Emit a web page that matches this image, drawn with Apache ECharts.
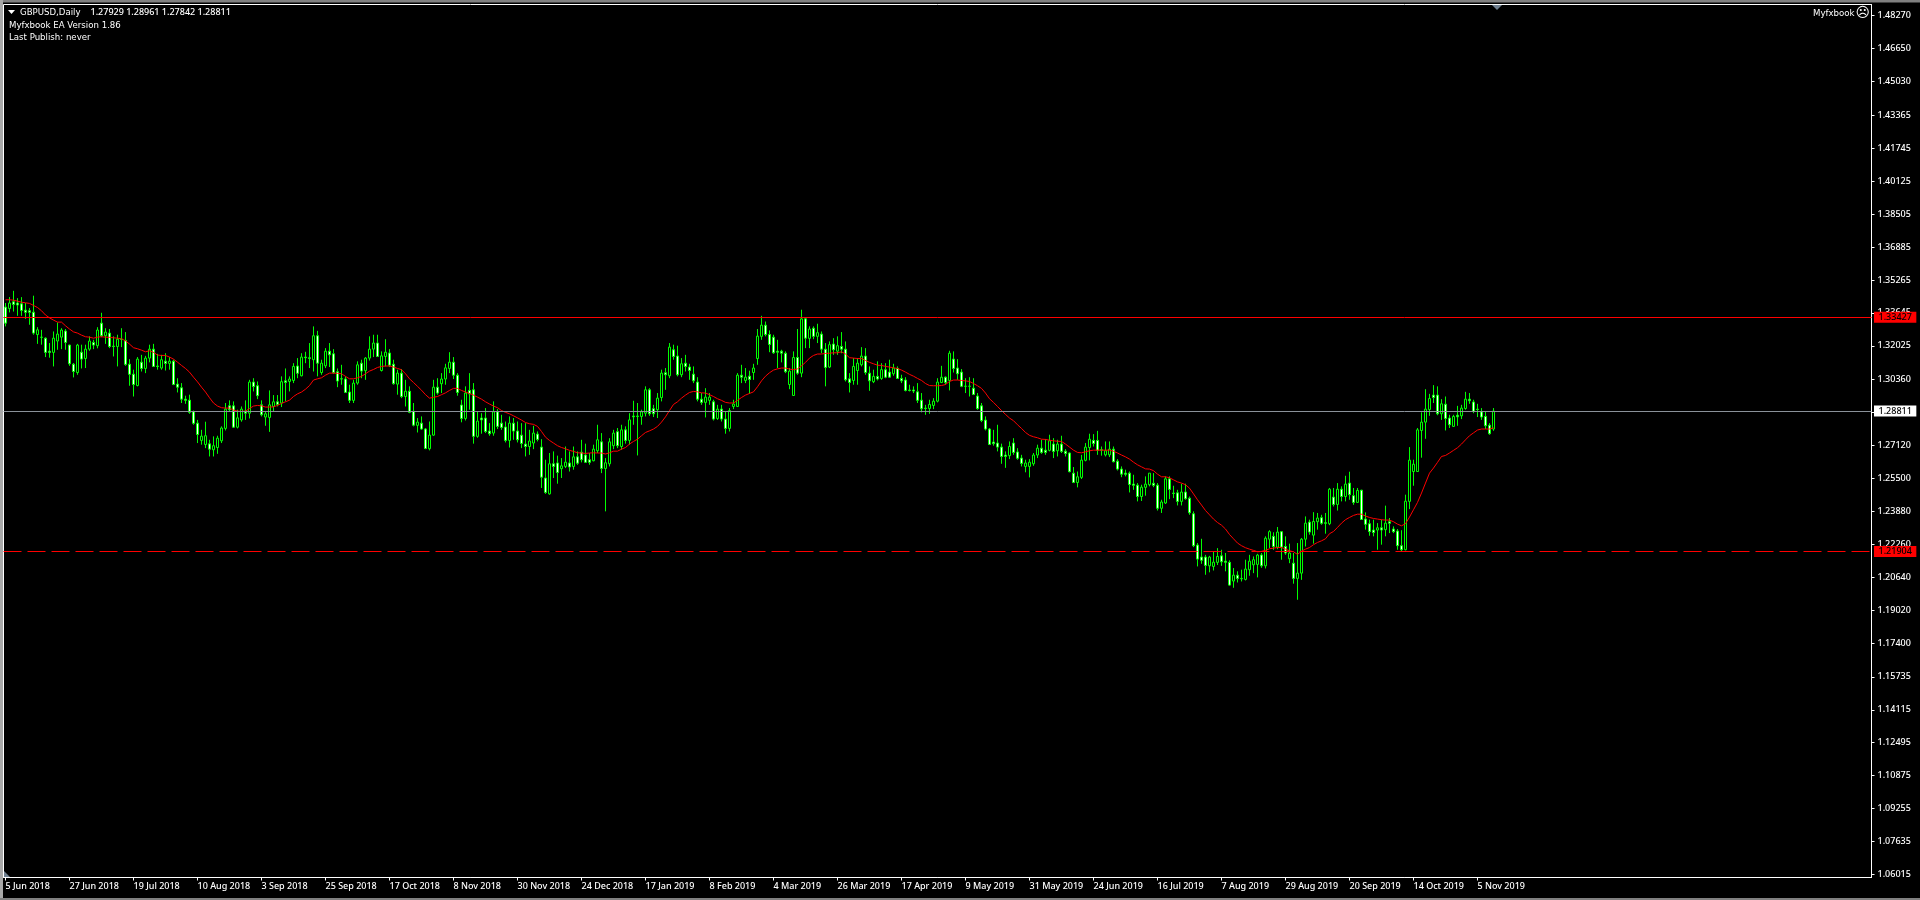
<!DOCTYPE html>
<html><head><meta charset="utf-8">
<style>html,body{margin:0;padding:0;background:#000;overflow:hidden}#c{width:1920px;height:900px}</style>
<script src="https://cdn.jsdelivr.net/npm/echarts@6/dist/echarts.min.js"></script>
</head><body><div id="c"></div>
<script>
const dateLabels=['5 Jun 2018','27 Jun 2018','19 Jul 2018','10 Aug 2018','3 Sep 2018','25 Sep 2018','17 Oct 2018','8 Nov 2018','30 Nov 2018','24 Dec 2018','17 Jan 2019','8 Feb 2019','4 Mar 2019','26 Mar 2019','17 Apr 2019','9 May 2019','31 May 2019','24 Jun 2019','16 Jul 2019','7 Aug 2019','29 Aug 2019','20 Sep 2019','14 Oct 2019','5 Nov 2019'];
const priceTicks=[1.48270,1.46650,1.45030,1.43365,1.41745,1.40125,1.38505,1.36885,1.35265,1.33645,1.32025,1.30360,1.28740,1.27120,1.25500,1.23880,1.22260,1.20640,1.19020,1.17400,1.15735,1.14115,1.12495,1.10875,1.09255,1.07635,1.06015];
const resistance=1.33427, lastPrice=1.28811, support=1.21904;
const opens=[
1.3393,1.3386,1.3419,1.3413,1.3409,1.3378,1.3375,1.3368,1.3258,1.3245,
1.3240,1.3176,1.3170,1.3226,1.3245,1.3275,1.3206,1.3112,1.3071,1.3171,
1.3140,1.3186,1.3219,1.3203,1.3314,1.3252,1.3265,1.3201,1.3199,1.3235,
1.3229,1.3112,1.3063,1.3007,1.3122,1.3091,1.3142,1.3186,1.3103,1.3093,
1.3127,1.3116,1.3127,1.3014,1.2996,1.2940,1.2935,1.2878,1.2822,1.2737,
1.2717,1.2720,1.2691,1.2702,1.2735,1.2796,1.2907,1.2907,1.2802,1.2838,
1.2881,1.2871,1.3024,1.3006,1.2912,1.2852,1.2850,1.2904,1.2927,1.2921,
1.3030,1.3027,1.3032,1.3103,1.3055,1.3147,1.3144,1.3134,1.3252,1.3071,
1.3104,1.3176,1.3163,1.3075,1.3040,1.3039,1.2975,1.2934,1.3019,1.3117,
1.3080,1.3142,1.3186,1.3216,1.3081,1.3150,1.3167,1.3112,1.3014,1.3068,
1.2953,1.2979,1.2880,1.2811,1.2822,1.2793,1.2696,1.2763,1.2999,1.3016,
1.3039,1.3091,1.3122,1.3058,1.2911,1.2845,1.2983,1.2986,1.2757,1.2847,
1.2847,1.2783,1.2773,1.2878,1.2822,1.2803,1.2737,1.2822,1.2783,1.2763,
1.2719,1.2707,1.2724,1.2768,1.2704,1.2552,1.2474,1.2622,1.2626,1.2598,
1.2609,1.2626,1.2609,1.2656,1.2679,1.2665,1.2642,1.2637,1.2686,1.2730,
1.2599,1.2622,1.2711,1.2780,1.2707,1.2789,1.2737,1.2857,1.2857,1.2855,
1.2871,1.2986,1.2893,1.2888,1.2948,1.3070,1.3055,1.3183,1.3152,1.3060,
1.3117,1.3098,1.3063,1.3024,1.2940,1.2924,1.2934,1.2927,1.2845,1.2891,
1.2842,1.2796,1.2904,1.2904,1.3058,1.3032,1.3053,1.3071,1.3140,1.3249,
1.3304,1.3258,1.3245,1.3176,1.3176,1.3166,1.3012,1.2958,1.3145,1.3068,
1.3335,1.3239,1.3289,1.3249,1.3260,1.3186,1.3098,1.3211,1.3176,1.3199,
1.3186,1.3040,1.3032,1.3081,1.3109,1.3152,1.3068,1.3026,1.3052,1.3042,
1.3085,1.3073,1.3065,1.3091,1.3042,1.3034,1.2985,1.2985,1.2976,1.2935,
1.2896,1.2894,1.2909,1.2930,1.3022,1.3048,1.3032,1.3137,1.3093,1.3073,
1.3004,1.3004,1.2994,1.2955,1.2907,1.2837,1.2793,1.2729,1.2724,
1.2704,1.2665,1.2662,1.2724,1.2680,1.2650,1.2609,1.2609,1.2622,1.2665,
1.2699,1.2689,1.2688,1.2719,1.2686,1.2719,1.2684,1.2675,1.2576,1.2530,
1.2555,1.2639,1.2702,1.2737,1.2737,1.2691,1.2666,1.2666,1.2694,1.2635,
1.2596,1.2576,1.2576,1.2522,1.2517,1.2461,1.2506,1.2519,1.2526,1.2517,
1.2403,1.2429,1.2548,1.2478,1.2479,1.2437,1.2483,1.2453,1.2376,1.2222,
1.2163,1.2163,1.2120,1.2117,1.2137,1.2169,1.2143,1.2137,1.2045,1.2074,
1.2058,1.2053,1.2101,1.2125,1.2127,1.2173,1.2120,1.2251,1.2265,1.2212,
1.2288,1.2215,1.2155,1.2133,1.2058,1.2084,1.2251,1.2335,1.2271,1.2337,
1.2357,1.2332,1.2327,1.2458,1.2422,1.2497,1.2461,1.2527,1.2465,1.2432,
1.2492,1.2350,1.2327,1.2296,1.2296,1.2307,1.2298,1.2337,1.2301,1.2291,
1.2219,1.2199,1.2437,1.2584,1.2584,1.2786,1.2827,1.2889,1.2960,1.2960,
1.2868,1.2915,1.2847,1.2806,1.2861,1.2858,1.2894,1.2940,1.2926,1.2891,
1.2878,1.2855,1.2812,1.27929];
const closes=[
1.3314,1.3413,1.3406,1.3403,1.3376,1.3367,1.3367,1.3265,1.3281,1.3244,
1.3170,1.3170,1.3240,1.3260,1.3280,1.3219,1.3114,1.3076,1.3206,1.3137,
1.3186,1.3226,1.3206,1.3280,1.3252,1.3270,1.3199,1.3199,1.3235,1.3234,
1.3111,1.3062,1.3012,1.3137,1.3091,1.3142,1.3186,1.3101,1.3101,1.3134,
1.3116,1.3127,1.3012,1.2999,1.2940,1.2934,1.2875,1.2821,1.2766,1.2758,
1.2760,1.2694,1.2711,1.2748,1.2798,1.2891,1.2888,1.2802,1.2848,1.2891,
1.2871,1.3024,1.3002,1.2957,1.2863,1.2868,1.2912,1.2927,1.2914,1.3026,
1.3022,1.3039,1.3101,1.3067,1.3147,1.3144,1.3140,1.3252,1.3117,1.3117,
1.3176,1.3158,1.3070,1.3029,1.3039,1.2973,1.2934,1.3019,1.3109,1.3078,
1.3142,1.3186,1.3216,1.3150,1.3153,1.3171,1.3107,1.3016,1.3068,1.2953,
1.2979,1.2875,1.2812,1.2827,1.2793,1.2697,1.2763,1.2999,1.2970,1.3039,
1.3094,1.3122,1.3058,1.2973,1.2845,1.2970,1.2966,1.2757,1.2832,1.2838,
1.2781,1.2770,1.2878,1.2806,1.2801,1.2737,1.2822,1.2783,1.2740,1.2722,
1.2707,1.2734,1.2773,1.2742,1.2556,1.2481,1.2622,1.2609,1.2579,1.2612,
1.2630,1.2606,1.2656,1.2625,1.2642,1.2629,1.2629,1.2694,1.2740,1.2599,
1.2627,1.2730,1.2773,1.2711,1.2789,1.2737,1.2838,1.2853,1.2855,1.2878,
1.2986,1.2868,1.2868,1.2945,1.3068,1.3060,1.3196,1.3150,1.3060,1.3114,
1.3101,1.3081,1.3030,1.2940,1.2924,1.2950,1.2950,1.2842,1.2891,1.2842,
1.2796,1.2884,1.2916,1.3058,1.3048,1.3048,1.3037,1.3093,1.3250,1.3304,
1.3258,1.3209,1.3168,1.3171,1.3166,1.3075,1.3078,1.3145,1.3068,1.3335,
1.3240,1.3285,1.3249,1.3267,1.3186,1.3096,1.3208,1.3183,1.3203,1.3186,
1.3035,1.3022,1.3101,1.3117,1.3152,1.3071,1.3030,1.3052,1.3039,1.3085,
1.3048,1.3048,1.3093,1.3042,1.3030,1.2983,1.2983,1.2980,1.2934,1.2893,
1.2894,1.2914,1.2930,1.3024,1.3048,1.3022,1.3166,1.3091,1.3065,1.3003,
1.3003,1.3003,1.2963,1.2894,1.2835,1.2793,1.2717,1.2721,1.2704,
1.2658,1.2658,1.2707,1.2678,1.2649,1.2624,1.2626,1.2630,1.2665,1.2699,
1.2678,1.2678,1.2735,1.2683,1.2719,1.2683,1.2673,1.2583,1.2530,1.2558,
1.2640,1.2704,1.2743,1.2722,1.2688,1.2689,1.2686,1.2694,1.2632,1.2596,
1.2571,1.2570,1.2520,1.2516,1.2461,1.2507,1.2522,1.2576,1.2516,1.2403,
1.2434,1.2548,1.2496,1.2476,1.2437,1.2483,1.2450,1.2381,1.2219,1.2153,
1.2147,1.2122,1.2163,1.2138,1.2166,1.2140,1.2137,1.2025,1.2074,1.2058,
1.2056,1.2104,1.2143,1.2150,1.2173,1.2120,1.2256,1.2288,1.2215,1.2286,
1.2212,1.2183,1.2183,1.2058,1.2084,1.2251,1.2330,1.2286,1.2338,1.2355,
1.2329,1.2329,1.2497,1.2422,1.2497,1.2461,1.2522,1.2470,1.2432,1.2491,
1.2348,1.2324,1.2288,1.2284,1.2307,1.2296,1.2330,1.2329,1.2288,1.2219,
1.2199,1.2438,1.2640,1.2620,1.2789,1.2827,1.2891,1.2943,1.2948,1.2868,
1.2917,1.2845,1.2814,1.2855,1.2853,1.2896,1.2940,1.2932,1.2880,1.2889,
1.2852,1.2809,1.2770,1.28811];
const highs=[
1.3413,1.3442,1.3473,1.3437,1.3442,1.3413,1.3388,1.3449,1.3294,1.3281,
1.3244,1.3216,1.3273,1.3317,1.3289,1.3285,1.3208,1.3118,1.3212,1.3208,
1.3208,1.3249,1.3232,1.3294,1.3365,1.3289,1.3285,1.3249,1.3257,1.3289,
1.3270,1.3137,1.3085,1.3147,1.3158,1.3153,1.3208,1.3212,1.3163,1.3158,
1.3166,1.3147,1.3134,1.3043,1.3019,1.2957,1.2962,1.2884,1.2838,1.2789,
1.2829,1.2740,1.2757,1.2760,1.2806,1.2921,1.2934,1.2929,1.2888,1.2904,
1.2934,1.3035,1.3043,1.3027,1.2934,1.2880,1.2983,1.2960,1.2960,1.3052,
1.3091,1.3052,1.3117,1.3142,1.3166,1.3173,1.3216,1.3298,1.3276,1.3134,
1.3191,1.3216,1.3186,1.3091,1.3109,1.3052,1.3011,1.3035,1.3126,1.3134,
1.3147,1.3249,1.3257,1.3257,1.3175,1.3235,1.3186,1.3134,1.3085,1.3088,
1.3035,1.3003,1.2921,1.2847,1.2855,1.2798,1.2830,1.3035,1.3043,1.3068,
1.3114,1.3171,1.3147,1.3068,1.2937,1.3003,1.3068,1.3019,1.2880,1.2871,
1.2896,1.2822,1.2929,1.2891,1.2863,1.2830,1.2855,1.2847,1.2830,1.2822,
1.2822,1.2789,1.2809,1.2781,1.2743,1.2642,1.2675,1.2683,1.2662,1.2650,
1.2707,1.2683,1.2707,1.2683,1.2740,1.2721,1.2675,1.2716,1.2814,1.2773,
1.2650,1.2748,1.2789,1.2798,1.2814,1.2806,1.2871,1.2932,1.2921,1.2888,
1.3003,1.2994,1.2912,1.2970,1.3085,1.3093,1.3216,1.3208,1.3203,1.3142,
1.3158,1.3114,1.3101,1.3048,1.2970,1.2994,1.2970,1.2937,1.2912,1.2912,
1.2880,1.2896,1.2937,1.3068,1.3109,1.3093,1.3080,1.3114,1.3285,1.3350,
1.3322,1.3278,1.3257,1.3232,1.3183,1.3175,1.3093,1.3175,1.3285,1.3380,
1.3339,1.3298,1.3298,1.3311,1.3273,1.3216,1.3224,1.3240,1.3249,1.3270,
1.3224,1.3068,1.3142,1.3142,1.3196,1.3191,1.3101,1.3085,1.3126,1.3117,
1.3117,1.3134,1.3114,1.3101,1.3060,1.3048,1.3011,1.3003,1.3019,1.2970,
1.2912,1.2937,1.2945,1.3043,1.3104,1.3052,1.3178,1.3175,1.3137,1.3088,
1.3043,1.3048,1.3043,1.2970,1.2921,1.2855,1.2798,1.2789,1.2814,
1.2721,1.2683,1.2732,1.2748,1.2699,1.2666,1.2642,1.2645,1.2675,1.2716,
1.2740,1.2743,1.2765,1.2748,1.2740,1.2760,1.2694,1.2678,1.2606,1.2584,
1.2666,1.2724,1.2770,1.2768,1.2784,1.2707,1.2732,1.2732,1.2707,1.2645,
1.2609,1.2593,1.2584,1.2568,1.2527,1.2519,1.2560,1.2576,1.2576,1.2527,
1.2445,1.2560,1.2560,1.2514,1.2494,1.2524,1.2524,1.2461,1.2388,1.2232,
1.2253,1.2174,1.2169,1.2191,1.2207,1.2199,1.2183,1.2147,1.2109,1.2093,
1.2101,1.2150,1.2174,1.2166,1.2179,1.2183,1.2265,1.2295,1.2285,1.2311,
1.2291,1.2265,1.2229,1.2183,1.2232,1.2257,1.2363,1.2347,1.2384,1.2380,
1.2371,1.2380,1.2503,1.2503,1.2527,1.2511,1.2563,1.2583,1.2503,1.2503,
1.2494,1.2383,1.2347,1.2347,1.2330,1.2347,1.2416,1.2355,1.2314,1.2301,
1.2295,1.2470,1.2704,1.2642,1.2798,1.2875,1.2989,1.2966,1.3009,1.3003,
1.2940,1.2953,1.2863,1.2863,1.2907,1.2912,1.2976,1.2970,1.2937,1.2917,
1.2896,1.2880,1.2822,1.28961];
const lows=[
1.3298,1.3367,1.3371,1.3350,1.3350,1.3335,1.3306,1.3257,1.3212,1.3208,
1.3147,1.3144,1.3101,1.3183,1.3186,1.3183,1.3104,1.3047,1.3060,1.3091,
1.3093,1.3178,1.3186,1.3190,1.3245,1.3212,1.3191,1.3150,1.3101,1.3196,
1.3104,1.3006,1.2953,1.3003,1.3076,1.3068,1.3121,1.3098,1.3085,1.3085,
1.3081,1.3085,1.3009,1.2973,1.2921,1.2917,1.2868,1.2814,1.2724,1.2716,
1.2699,1.2658,1.2658,1.2671,1.2724,1.2786,1.2880,1.2798,1.2796,1.2829,
1.2838,1.2845,1.2978,1.2940,1.2855,1.2809,1.2779,1.2880,1.2904,1.2901,
1.2929,1.2978,1.3019,1.3043,1.3052,1.3117,1.3093,1.3076,1.3052,1.3060,
1.3093,1.3098,1.3065,1.2999,1.3011,1.2970,1.2921,1.2921,1.3011,1.3043,
1.3035,1.3130,1.3147,1.3147,1.3076,1.3101,1.3098,1.3011,1.2962,1.2945,
1.2904,1.2871,1.2806,1.2776,1.2790,1.2694,1.2688,1.2760,1.2962,1.2970,
1.3011,1.3068,1.3039,1.2957,1.2826,1.2835,1.2888,1.2721,1.2750,1.2770,
1.2773,1.2760,1.2760,1.2793,1.2789,1.2727,1.2702,1.2740,1.2727,1.2699,
1.2658,1.2666,1.2694,1.2732,1.2503,1.2474,1.2470,1.2552,1.2524,1.2552,
1.2601,1.2584,1.2593,1.2617,1.2629,1.2626,1.2617,1.2634,1.2675,1.2576,
1.2388,1.2609,1.2694,1.2699,1.2691,1.2721,1.2716,1.2814,1.2663,1.2814,
1.2855,1.2858,1.2852,1.2847,1.2929,1.2986,1.3043,1.3134,1.3052,1.3048,
1.3076,1.3035,1.3019,1.2929,1.2912,1.2850,1.2912,1.2835,1.2838,1.2830,
1.2770,1.2781,1.2891,1.2901,1.3019,1.3019,1.2966,1.3035,1.3109,1.3232,
1.3249,1.3171,1.3163,1.3093,1.3121,1.3068,1.2989,1.2957,1.3060,1.3048,
1.3191,1.3191,1.3235,1.3216,1.3166,1.3003,1.3093,1.3158,1.3158,1.3166,
1.3027,1.2973,1.3011,1.3011,1.3101,1.3060,1.2981,1.3019,1.3032,1.3035,
1.3043,1.3045,1.3055,1.3039,1.3019,1.2978,1.2978,1.2970,1.2921,1.2875,
1.2863,1.2868,1.2891,1.2924,1.3019,1.3011,1.2983,1.3071,1.3035,1.2999,
1.2970,1.2953,1.2960,1.2888,1.2827,1.2786,1.2714,1.2711,1.2683,
1.2622,1.2602,1.2645,1.2666,1.2642,1.2609,1.2580,1.2555,1.2612,1.2650,
1.2671,1.2666,1.2683,1.2650,1.2658,1.2675,1.2658,1.2580,1.2527,1.2506,
1.2547,1.2634,1.2639,1.2707,1.2666,1.2662,1.2658,1.2655,1.2629,1.2589,
1.2556,1.2560,1.2481,1.2494,1.2437,1.2439,1.2465,1.2511,1.2507,1.2392,
1.2380,1.2424,1.2448,1.2453,1.2417,1.2417,1.2445,1.2371,1.2212,1.2117,
1.2130,1.2076,1.2088,1.2097,1.2124,1.2120,1.2093,1.2022,1.2012,1.2038,
1.2043,1.2048,1.2071,1.2084,1.2063,1.2110,1.2107,1.2207,1.2199,1.2202,
1.2150,1.2174,1.2133,1.2032,1.1953,1.2051,1.2215,1.2273,1.2229,1.2298,
1.2322,1.2278,1.2320,1.2412,1.2392,1.2437,1.2437,1.2445,1.2420,1.2429,
1.2347,1.2298,1.2268,1.2265,1.2199,1.2224,1.2265,1.2281,1.2281,1.2199,
1.2192,1.2196,1.2399,1.2514,1.2583,1.2652,1.2745,1.2858,1.2921,1.2861,
1.2838,1.2786,1.2798,1.2803,1.2809,1.2842,1.2888,1.2917,1.2871,1.2852,
1.2838,1.2793,1.2765,1.27842];
const movingAverage=[
1.3429,1.3429,1.3427,1.3422,1.3417,1.3414,1.3411,1.3401,1.3391,1.3375,
1.3354,1.3340,1.3329,1.3319,1.3319,1.3301,1.3285,1.3271,1.3265,1.3255,
1.3247,1.3245,1.3240,1.3245,1.3247,1.3245,1.3244,1.3242,1.3240,1.3237,
1.3227,1.3211,1.3193,1.3188,1.3181,1.3173,1.3178,1.3170,1.3157,1.3155,
1.3155,1.3147,1.3137,1.3122,1.3106,1.3091,1.3073,1.3048,1.3025,1.2999,
1.2975,1.2947,1.2921,1.2906,1.2898,1.2896,1.2896,1.2886,1.2881,1.2880,
1.2881,1.2894,1.2906,1.2909,1.2907,1.2901,1.2901,1.2902,1.2909,1.2919,
1.2927,1.2935,1.2953,1.2966,1.2975,1.2989,1.3007,1.3034,1.3040,1.3045,
1.3058,1.3068,1.3068,1.3067,1.3065,1.3052,1.3040,1.3040,1.3045,1.3052,
1.3065,1.3078,1.3086,1.3096,1.3101,1.3103,1.3103,1.3098,1.3091,1.3085,
1.3065,1.3040,1.3022,1.3003,1.2984,1.2962,1.2945,1.2949,1.2953,1.2962,
1.2971,1.2983,1.2993,1.2993,1.2983,1.2975,1.2968,1.2960,1.2950,1.2940,
1.2927,1.2916,1.2906,1.2898,1.2884,1.2875,1.2868,1.2858,1.2848,1.2837,
1.2825,1.2819,1.2816,1.2806,1.2781,1.2753,1.2737,1.2724,1.2711,1.2702,
1.2696,1.2688,1.2683,1.2676,1.2675,1.2673,1.2675,1.2676,1.2675,1.2675,
1.2670,1.2676,1.2684,1.2684,1.2694,1.2702,1.2719,1.2732,1.2743,1.2760,
1.2776,1.2784,1.2793,1.2806,1.2827,1.2853,1.2884,1.2914,1.2927,1.2945,
1.2960,1.2973,1.2978,1.2976,1.2971,1.2970,1.2962,1.2953,1.2942,1.2934,
1.2924,1.2921,1.2921,1.2934,1.2948,1.2960,1.2968,1.2976,1.3001,1.3030,
1.3053,1.3070,1.3083,1.3089,1.3093,1.3093,1.3088,1.3085,1.3089,1.3104,
1.3121,1.3142,1.3155,1.3162,1.3162,1.3165,1.3166,1.3168,1.3168,1.3173,
1.3162,1.3144,1.3142,1.3140,1.3140,1.3130,1.3121,1.3114,1.3107,1.3106,
1.3101,1.3098,1.3094,1.3091,1.3083,1.3073,1.3062,1.3053,1.3042,1.3032,
1.3017,1.3007,1.3006,1.3006,1.3007,1.3012,1.3027,1.3034,1.3034,1.3032,
1.3030,1.3027,1.3017,1.3006,1.2993,1.2970,1.2942,1.2924,1.2904,
1.2884,1.2865,1.2847,1.2834,1.2814,1.2796,1.2776,1.2762,1.2755,1.2750,
1.2743,1.2742,1.2738,1.2735,1.2733,1.2732,1.2719,1.2704,1.2689,1.2678,
1.2676,1.2681,1.2686,1.2689,1.2689,1.2689,1.2689,1.2689,1.2684,1.2675,
1.2665,1.2656,1.2645,1.2630,1.2617,1.2607,1.2597,1.2596,1.2588,1.2571,
1.2558,1.2558,1.2553,1.2543,1.2533,1.2527,1.2519,1.2502,1.2474,1.2445,
1.2419,1.2392,1.2371,1.2350,1.2333,1.2320,1.2301,1.2274,1.2253,1.2232,
1.2219,1.2209,1.2202,1.2196,1.2189,1.2191,1.2196,1.2204,1.2207,1.2210,
1.2210,1.2202,1.2194,1.2189,1.2176,1.2192,1.2202,1.2210,1.2224,1.2235,
1.2243,1.2253,1.2278,1.2289,1.2309,1.2330,1.2347,1.2358,1.2368,1.2374,
1.2374,1.2365,1.2358,1.2353,1.2350,1.2347,1.2345,1.2345,1.2337,1.2325,
1.2317,1.2327,1.2360,1.2396,1.2432,1.2478,1.2527,1.2576,1.2601,1.2629,
1.2658,1.2663,1.2675,1.2688,1.2701,1.2719,1.2740,1.2760,1.2774,1.2788,
1.2793,1.2793,1.2793,1.2799];
const barsPerTick=16, slotCount=467;
const categories=Array.from({length:slotCount},(_,i)=>i%barsPerTick===0&&dateLabels[i/barsPerTick]?dateLabels[i/barsPerTick]:'');
const candles=opens.map((o,i)=>[o,closes[i],lows[i],highs[i]]);
const font='"Noto Sans",sans-serif', legendFont='8.6px "DejaVu Sans"';
const hline=(v,lineStyle,bg)=>({yAxis:v,lineStyle,label:{show:true,position:'end',distance:2.5,formatter:v.toFixed(5),backgroundColor:bg,color:'#000',fontFamily:font,fontSize:9,fontWeight:500,lineHeight:9,padding:[1,4.5,1,4.5]}});
const txt=(x,y,text,extra)=>({type:'text',x,y,silent:true,z:50,style:Object.assign({text,fill:'#fff',font:legendFont,textVerticalAlign:'middle'},extra||{})});
const chart=echarts.init(document.getElementById('c'),null,{renderer:'canvas'});
chart.setOption({
 animation:false,backgroundColor:'#000',
 grid:{left:3.5,top:4.5,width:1868,height:873,show:true,borderColor:'#fff',borderWidth:1,backgroundColor:'#000'},
 xAxis:{type:'category',data:categories,boundaryGap:true,
  axisLine:{show:true,lineStyle:{color:'#fff',width:1}},
  axisTick:{show:true,alignWithLabel:true,length:3,interval:(i,v)=>v!=='',lineStyle:{color:'#fff'}},
  axisLabel:{show:true,interval:(i,v)=>v!=='',color:'#fff',fontFamily:font,fontSize:9,fontWeight:500,align:'left',margin:4,hideOverlap:false}},
 yAxis:{type:'value',position:'right',min:1.05865,max:1.48817,scale:true,splitLine:{show:false},
  axisLine:{show:true,onZero:false,lineStyle:{color:'#fff',width:1}},
  axisTick:{show:true,length:3,customValues:priceTicks,lineStyle:{color:'#fff'}},
  axisLabel:{show:true,customValues:priceTicks,color:'#fff',fontFamily:font,fontSize:9,fontWeight:500,margin:6,padding:[2,0,0,0],formatter:v=>v.toFixed(5),hideOverlap:false}},
 series:[
  {type:'candlestick',data:candles,barWidth:3,clip:true,z:3,
   itemStyle:{color:'#000',color0:'#fff',borderColor:'#00ff00',borderColor0:'#00ff00',borderWidth:1}},
  {type:'line',data:movingAverage,symbol:'none',z:5,smooth:false,lineStyle:{color:'#ff0000',width:1},
   markLine:{silent:true,symbol:['none','none'],precision:5,z:20,animation:false,
    data:[hline(resistance,{color:'#ff0000',width:1,type:'solid'},'#ff0000'),
          hline(lastPrice,{color:'#8a9199',width:1,type:'solid'},'#ffffff'),
          hline(support,{color:'#ff0000',width:1,type:[18,6]},'#ff0000')]}}
 ],
 graphic:{elements:[
  {type:'rect',shape:{x:0,y:0,width:1920,height:2.5},style:{fill:'#808080'},silent:true,z:40},
  {type:'rect',shape:{x:0,y:0,width:3,height:900},style:{fill:'#a8a8a8'},silent:true,z:40},
  {type:'rect',shape:{x:0,y:898,width:1920,height:2},style:{fill:'#808080'},silent:true,z:40},
  {type:'polygon',shape:{points:[[1492,5],[1502,5],[1497,10]]},style:{fill:'#708090'},silent:true,z:40},
  {type:'polygon',shape:{points:[[4,871],[4,877],[10,877]]},style:{fill:'#708090'},silent:true,z:40},
  {type:'polygon',shape:{points:[[8,10],[15,10],[11.5,14]]},style:{fill:'#fff'},silent:true,z:40},
  txt(20,12.5,'GBPUSD,Daily'),
  txt(90.5,12.5,'1.27929 1.28961 1.27842 1.28811',{font:'500 9px "Noto Sans"'}),
  txt(9,26,'Myfxbook EA Version 1.86'),
  txt(9,38,'Last Publish: never'),
  txt(1813,13.5,'Myfxbook'),
  txt(1855.5,13.5,'☹',{font:'14px "DejaVu Sans"'})
 ]}
});
</script></body></html>
